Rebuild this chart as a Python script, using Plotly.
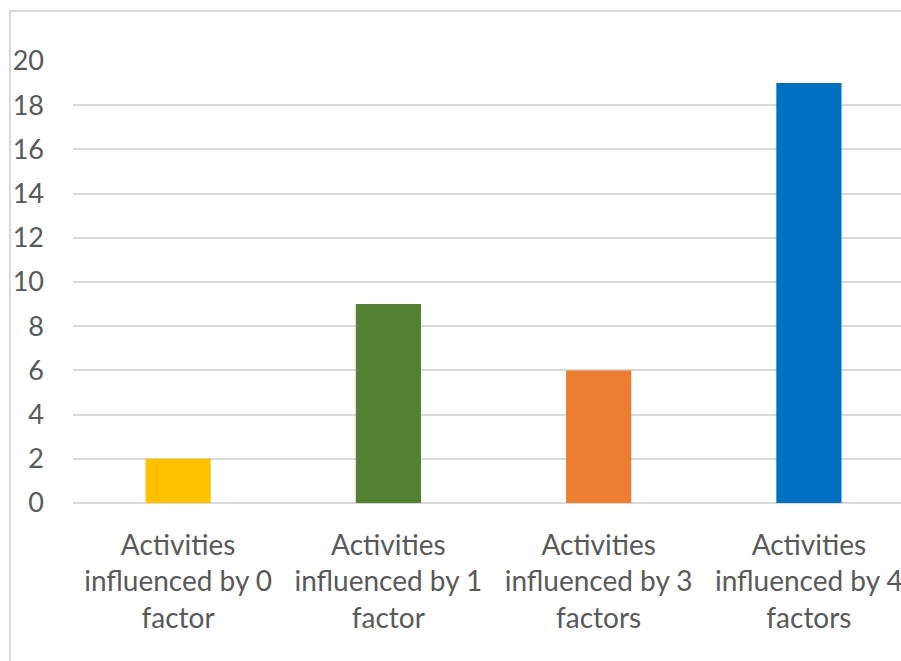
import plotly.graph_objects as go

categories = ["Activities<br>influenced by 0<br>factor",
              "Activities<br>influenced by 1<br>factor",
              "Activities<br>influenced by 3<br>factors",
              "Activities<br>influenced by 4<br>factors"]
values = [2, 9, 6, 19]
colors = ["#FFC000", "#548235", "#ED7D31", "#0070C0"]
y_ticks = list(range(0, 21, 2))

W, H = 901, 661
L, R, T, B = 73, 0, 61, 158
pw = W - L - R
ph = H - T - B

fig = go.Figure(go.Bar(x=list(range(len(categories))), y=values,
                       marker=dict(color=colors, line=dict(width=0)),
                       width=0.31))

fig.update_layout(
    width=W, height=H,
    margin=dict(l=L, r=R, t=T, b=B, autoexpand=False),
    paper_bgcolor="white", plot_bgcolor="white",
    font=dict(family="Lato, Open Sans, sans-serif", size=27, color="#595959"),
    showlegend=False,
    xaxis=dict(range=[-0.5, 3.438], tickvals=list(range(len(categories))),
               ticktext=categories, showgrid=False, zeroline=False,
               showline=False, ticks="", ticklabeloverflow="allow",
               automargin=False, ticklabelstandoff=23, tickangle=0,
               tickfont=dict(size=28)),
    yaxis=dict(range=[0, 20], tickvals=y_ticks, showgrid=True,
               gridcolor="#D9D9D9", gridwidth=2, zeroline=True,
               zerolinecolor="#D9D9D9", zerolinewidth=2, showline=False,
               ticks="", automargin=False, ticklabelstandoff=28),
    shapes=[dict(type="rect", xref="paper", yref="paper",
                 x0=(10 - L) / pw, x1=1.05, y0=-0.5, y1=(H - B - 11) / ph,
                 line=dict(color="#D9D9D9", width=2), fillcolor="rgba(0,0,0,0)",
                 layer="below")],
)

fig.write_html("out.html",
               config={"displayModeBar": False},
               post_script="document.body.style.margin='0';"
                           "document.body.style.overflow='hidden';")
